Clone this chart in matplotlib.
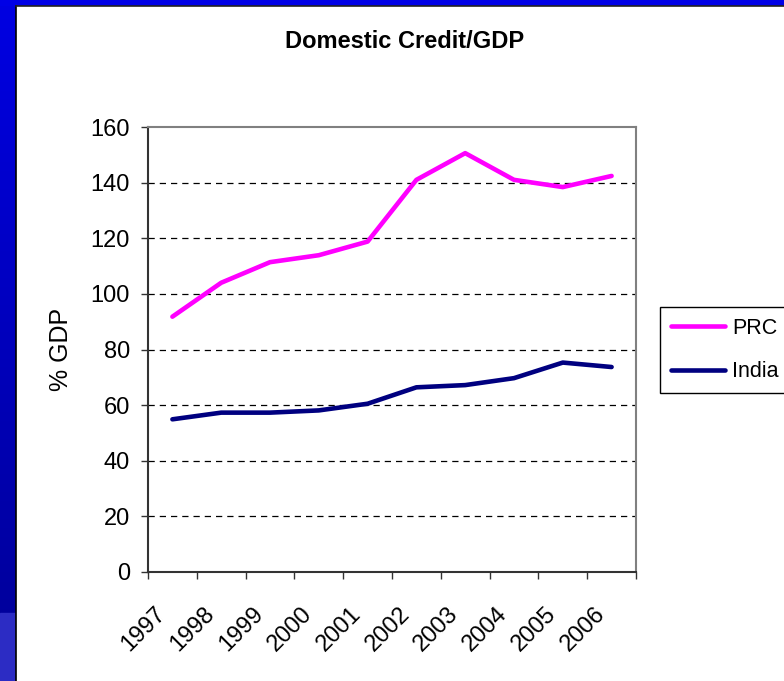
import numpy as np
import matplotlib
matplotlib.use("Agg")
import matplotlib.pyplot as plt
from matplotlib.transforms import ScaledTranslation
from matplotlib.patches import Rectangle

years = ["1997", "1998", "1999", "2000", "2001", "2002", "2003", "2004", "2005", "2006"]
prc = [91.8, 104.0, 111.4, 113.9, 118.8, 141.0, 150.6, 141.0, 138.4, 142.4]
india = [54.9, 57.3, 57.3, 58.1, 60.5, 66.4, 67.2, 69.7, 75.3, 73.7]
series_names = ["PRC", "India"]
y_ticks = [0, 20, 40, 60, 80, 100, 120, 140, 160]

plt.rcParams['font.family'] = ['Liberation Sans', 'DejaVu Sans']

W, H = 784, 681
fig = plt.figure(figsize=(W / 100, H / 100), dpi=100)
fig.patch.set_facecolor('white')

# slide background: left gradient strip and top strip
strip = fig.add_axes([0, 0, 16 / W, 1])
grad = np.linspace(0, 1, 256)
cols = np.zeros((256, 1, 3))
top_c = np.array([0, 0, 226]) / 255
bot_c = np.array([0, 0, 150]) / 255
for i, g in enumerate(grad):
    cols[i, 0] = top_c * (1 - g) + bot_c * g
strip.imshow(cols, aspect='auto', extent=[0, 1, 0, 1], origin='upper')
strip.add_patch(Rectangle((0, 0), 1, 68 / H, color='#2c2cc4', zorder=3))
strip.set_xlim(0, 1)
strip.set_ylim(0, 1)
strip.axis('off')

top = fig.add_axes([0, 1 - 6 / H, 1, 6 / H])
top.set_facecolor('#0000e6')
top.set_xticks([])
top.set_yticks([])
for s in top.spines.values():
    s.set_visible(False)

# dark border of white area
fig.add_artist(plt.Line2D([16 / W, 16 / W], [0, 1 - 6 / H], color='black', lw=1.2, transform=fig.transFigure))
fig.add_artist(plt.Line2D([16 / W, 1], [1 - 6 / H, 1 - 6 / H], color='#222222', lw=1.2, transform=fig.transFigure))

ax = fig.add_axes([148 / W, 1 - 572 / H, (636 - 148) / W, (572 - 127) / H])
x = np.arange(len(years)) + 0.5
ax.plot(x, prc, color='#ff00ff', lw=3.3, solid_capstyle='round', label=series_names[0], zorder=3)
ax.plot(x, india, color='#000080', lw=3.3, solid_capstyle='round', label=series_names[1], zorder=3)

ax.set_xlim(0, len(years))
ax.set_ylim(0, 160)
ax.set_yticks(y_ticks)
ax.set_yticklabels([str(v) for v in y_ticks], fontsize=17)
for v in y_ticks[1:-1]:
    ax.axhline(v, color='black', lw=0.9, ls=(0, (5, 4)), zorder=1)

ax.set_xticks(np.arange(len(years) + 1))
ax.set_xticklabels([])
ax.set_xticks(x, minor=True)
ax.set_xticklabels(years, minor=True, fontsize=17, rotation=45, ha='right', va='center',
                   rotation_mode='anchor')
ax.tick_params(axis='x', which='minor', length=0, pad=28)
ax.tick_params(axis='x', which='major', length=5, width=1, color='#333333', direction='out')
ax.tick_params(axis='y', length=5, width=1, color='#333333', direction='out', pad=8)
for lbl in ax.get_xticklabels(minor=True):
    lbl.set_transform(lbl.get_transform() + ScaledTranslation(-10 / 100, 0, fig.dpi_scale_trans))

for side in ['left', 'bottom']:
    ax.spines[side].set_color('#333333')
    ax.spines[side].set_linewidth(1.5)
for side in ['top', 'right']:
    ax.spines[side].set_color('#808080')
    ax.spines[side].set_linewidth(1.5)

ax.set_ylabel('% GDP', fontsize=18)
ax.yaxis.set_label_coords(-0.154, 0.5)

fig.text(405 / W, 1 - 42 / H, 'Domestic Credit/GDP', fontsize=17, fontweight='bold',
         ha='center', va='center')

leg = ax.legend(loc='center left', bbox_to_anchor=(660 / W, 1 - 350 / H),
                bbox_transform=fig.transFigure, fontsize=15.5, frameon=True, fancybox=False,
                framealpha=1, edgecolor='black', handlelength=2.5, handletextpad=0.35,
                labelspacing=1.05, borderpad=0.5, borderaxespad=0)
leg.get_frame().set_linewidth(1.0)

fig.savefig('out.png', dpi=100)
